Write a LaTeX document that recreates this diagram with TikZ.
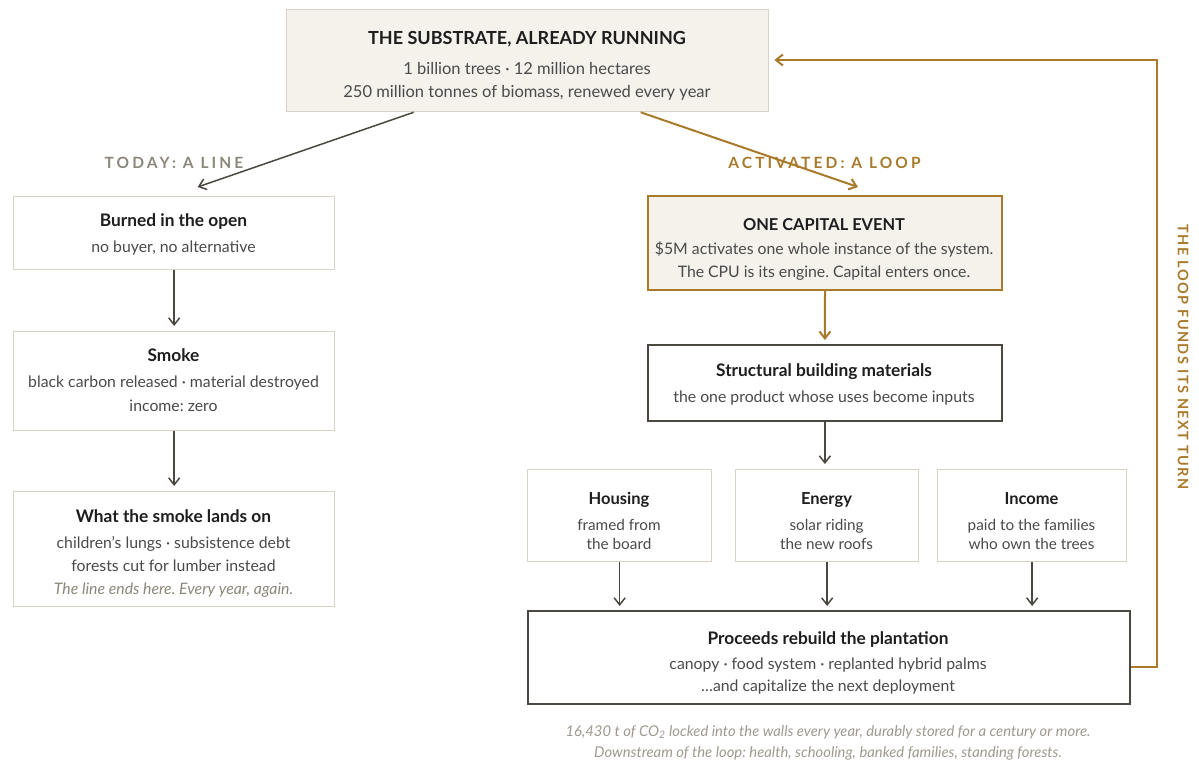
\documentclass[tikz,border=0pt]{standalone}
\usepackage{fontspec}
\setmainfont{Lato}
\frenchspacing
\usetikzlibrary{arrows.meta,calc}
\definecolor{cream}{HTML}{F5F2EB}
\definecolor{lightb}{HTML}{D8D3C6}
\definecolor{ttlc}{HTML}{1E1E1E}
\definecolor{bodyc}{HTML}{4A4A4A}
\definecolor{greyl}{HTML}{8C877B}
\definecolor{gold}{HTML}{A97A2C}
\definecolor{darkc}{HTML}{4A4840}
\definecolor{noteg}{HTML}{9E998F}
\begin{document}
\begin{tikzpicture}[x=1pt,y=-1pt,
  lbox/.style={draw=lightb,line width=1.3pt,fill=white,rectangle,inner sep=0pt,anchor=north west},
  cbox/.style={lbox,fill=cream},
  gbox/.style={draw=gold,line width=2pt,fill=cream,rectangle,inner sep=0pt,anchor=north west},
  dbox/.style={draw=darkc,line width=1.8pt,fill=white,rectangle,inner sep=0pt,anchor=north west},
  ttl/.style={anchor=base,inner sep=0pt,text=ttlc,font=\fontsize{17.3}{19}\selectfont\bfseries},
  capttl/.style={ttl,font=\fontsize{16.4}{19}\selectfont\bfseries},
  smttl/.style={ttl,font=\fontsize{16.5}{19}\selectfont\bfseries},
  bigttl/.style={ttl,font=\fontsize{18}{20}\selectfont\bfseries},
  txt/.style={anchor=base,inner sep=0pt,text=bodyc,font=\fontsize{15.8}{18}\selectfont},
  bigtxt/.style={txt,font=\fontsize{16.5}{18}\selectfont},
  smtxt/.style={txt,font=\fontsize{15.3}{18}\selectfont},
  itx/.style={anchor=base,inner sep=0pt,text=greyl,font=\fontsize{15.8}{18}\selectfont\itshape},
  note/.style={anchor=base,inner sep=0pt,text=noteg,font=\fontsize{14.8}{16}\selectfont\itshape},
  lab/.style={anchor=base,inner sep=0pt,font=\fontsize{15.5}{17}\selectfont\bfseries\addfontfeatures{LetterSpace=20}},
  darr/.style={draw=darkc,line width=1.5pt,-{Straight Barb[length=7pt,width=11pt,line width=1.5pt]}},
  garr/.style={draw=gold,line width=2pt,-{Straight Barb[length=7pt,width=11pt,line width=2pt]}}
]
\useasboundingbox (0,0) rectangle (1199,762);

% Substrate
\node[cbox,minimum width=482pt,minimum height=102pt] (sub) at (286,9) {};
\node[bigttl] (sub-t) at (527,45) {THE SUBSTRATE, ALREADY RUNNING};
\node[bigtxt] (sub-a) at (527,75) {1 billion trees · 12 million hectares};
\node[bigtxt] (sub-b) at (527,98) {250 million tonnes of biomass, renewed every year};

% Labels
\node[lab,text=greyl] (today) at (174,169) {TODAY: A LINE};
\node[lab,text=gold] (activ) at (824.5,169) {ACTIVATED: A LOOP};

% Left column
\node[lbox,minimum width=321pt,minimum height=73pt] (burn) at (13,196) {};
\node[ttl] (burn-t) at (173.5,226) {Burned in the open};
\node[txt] (burn-a) at (173.5,252) {no buyer, no alternative};

\node[lbox,minimum width=321pt,minimum height=99pt] (smoke) at (13,331) {};
\node[ttl] (smoke-t) at (173.5,361) {Smoke};
\node[txt] (smoke-a) at (173.5,387) {black carbon released · material destroyed};
\node[txt] (smoke-b) at (173.5,411) {income: zero};

\node[lbox,minimum width=321pt,minimum height=115pt] (what) at (13,491) {};
\node[ttl] (what-t) at (173.5,522) {What the smoke lands on};
\node[txt] (what-a) at (173.5,548) {children’s lungs · subsistence debt};
\node[txt] (what-b) at (173.5,571) {forests cut for lumber instead};
\node[itx] (what-c) at (173.5,594) {The line ends here. Every year, again.};

% Right column
\node[gbox,minimum width=354pt,minimum height=94pt] (cap) at (647,195) {};
\node[capttl] (cap-t) at (824,230) {ONE CAPITAL EVENT};
\node[txt] (cap-a) at (824,254) {\$5M activates one whole instance of the system.};
\node[txt] (cap-b) at (824,277) {The CPU is its engine. Capital enters once.};

\node[dbox,minimum width=354pt,minimum height=76pt] (str) at (647,344) {};
\node[ttl] (str-t) at (824,376) {Structural building materials};
\node[txt] (str-a) at (824,402) {the one product whose uses become inputs};

\node[lbox,minimum width=184pt,minimum height=92pt] (hous) at (527,469) {};
\node[smttl] (hous-t) at (619,504) {Housing};
\node[smtxt] (hous-a) at (619,530) {framed from};
\node[smtxt] (hous-b) at (619,549) {the board};

\node[lbox,minimum width=183pt,minimum height=92pt] (ener) at (735,469) {};
\node[smttl] (ener-t) at (826.5,504) {Energy};
\node[smtxt] (ener-a) at (826.5,530) {solar riding};
\node[smtxt] (ener-b) at (826.5,549) {the new roofs};

\node[lbox,minimum width=189pt,minimum height=92pt] (inc) at (937,469) {};
\node[smttl] (inc-t) at (1031.5,504) {Income};
\node[smtxt] (inc-a) at (1031.5,530) {paid to the families};
\node[smtxt] (inc-b) at (1031.5,549) {who own the trees};

\node[dbox,minimum width=602pt,minimum height=93pt] (proc) at (527,610) {};
\node[ttl] (proc-t) at (828,644) {Proceeds rebuild the plantation};
\node[txt] (proc-a) at (828,669) {canopy · food system · replanted hybrid palms};
\node[txt] (proc-b) at (828,691) {…and capitalize the next deployment};

% Footnote
\node[note] (fn-a) at (828,736) {16,430 t of CO\textsubscript{2} locked into the walls every year, durably stored for a century or more.};
\node[note] (fn-b) at (828,757) {Downstream of the loop: health, schooling, banked families, standing forests.};

% Loop label
\node[rotate=-90,inner sep=0pt,text=gold,font=\fontsize{14.5}{16}\selectfont\bfseries\addfontfeatures{LetterSpace=10}] (loop) at (1183,357) {THE LOOP FUNDS ITS NEXT TURN};

% Connectors
\draw[darr] ([xshift=-114pt]sub.south) -- ([xshift=23.5pt,yshift=9pt]burn.north);
\draw[garr] ([xshift=113pt]sub.south) -- ([xshift=33pt,yshift=8pt]cap.north);
\draw[darr] (burn.south) -- ([yshift=5pt]smoke.north);
\draw[darr] (smoke.south) -- ([yshift=5pt]what.north);
\draw[garr] (cap.south) -- ([yshift=4pt]str.north);
\draw[darr] (str.south) -- ([yshift=5pt]ener.north -| str.south);
\draw[darr] (hous.south) -- ([yshift=4pt]proc.north -| hous.south);
\draw[darr] (ener.south) -- ([yshift=4pt]proc.north -| ener.south);
\draw[darr] (inc.south) -- ([yshift=4pt]proc.north -| inc.south);
\coordinate (loopx) at (1157,0);
\draw[garr] ([yshift=-10pt]proc.east) -| (loopx |- 0,60) -- ([xshift=5pt]sub.east |- 0,60);
\end{tikzpicture}
\end{document}
